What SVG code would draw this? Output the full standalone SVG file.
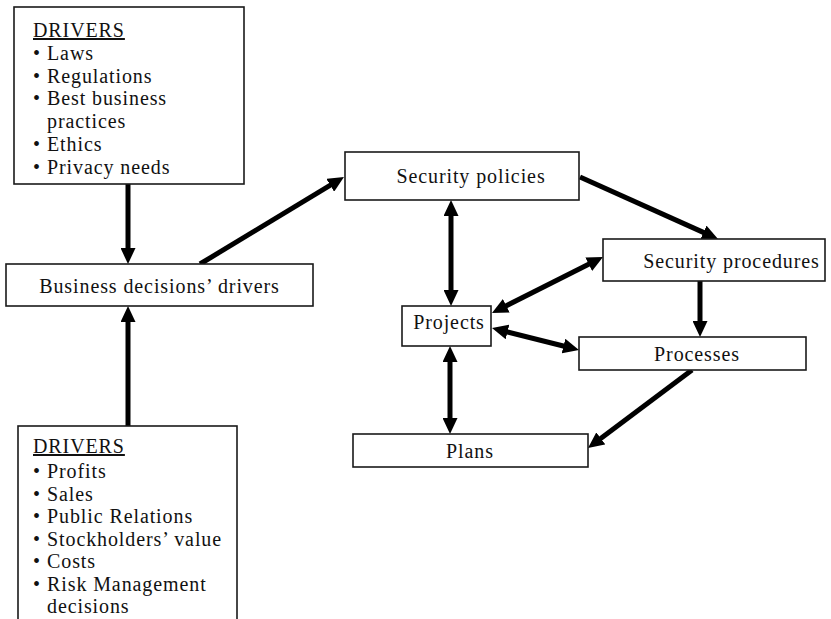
<svg xmlns="http://www.w3.org/2000/svg" width="831" height="619" viewBox="0 0 831 619">
  <style>
    .box { fill: #ffffff; stroke: #1a1a1a; stroke-width: 1.6; }
    .t { font-family: "Liberation Serif", "Times New Roman", serif; font-size: 20px; letter-spacing: 0.9px; fill: #111; }
    .c { text-anchor: middle; }
    .u { text-decoration: underline; }
    .arr { stroke: #000; stroke-width: 5; fill: none; }
    .one { marker-end: url(#ah); }
    .two { marker-start: url(#ah); marker-end: url(#ah); }
  </style>
  <defs>
    <marker id="ah" markerUnits="userSpaceOnUse" markerWidth="16" markerHeight="15" refX="6" refY="7.5" orient="auto-start-reverse" viewBox="0 0 16 15">
      <path d="M0,0 L16,7.5 L0,15 Z" fill="#000"/>
    </marker>
  </defs>
  <rect width="831" height="619" fill="#ffffff"/>

  <g id="connectors">
    <line class="arr one" x1="128" y1="184" x2="128" y2="254"/>
    <line class="arr one" x1="128" y1="426" x2="128" y2="316"/>
    <line class="arr one" x1="200" y1="264" x2="335.4" y2="182.2"/>
    <line class="arr two" x1="451" y1="210" x2="451" y2="296"/>
    <line class="arr one" x1="580" y1="177" x2="708.9" y2="234.9"/>
    <line class="arr two" x1="500.9" y1="308.5" x2="594.1" y2="261.5"/>
    <line class="arr two" x1="501.7" y1="330.5" x2="569.3" y2="347.5"/>
    <line class="arr one" x1="700" y1="281" x2="700" y2="327"/>
    <line class="arr two" x1="450" y1="356" x2="450" y2="424"/>
    <line class="arr one" x1="692" y1="370" x2="596" y2="442"/>
  </g>

  <g id="drivers-top">
    <rect class="box" x="14" y="7" width="230" height="177"/>
    <text class="t u" x="33" y="37">DRIVERS</text>
    <text class="t"><tspan x="33" y="60">•</tspan><tspan x="47" y="60">Laws</tspan></text>
    <text class="t"><tspan x="33" y="82.6">•</tspan><tspan x="47" y="82.6">Regulations</tspan></text>
    <text class="t"><tspan x="33" y="105.4">•</tspan><tspan x="47" y="105.4">Best business</tspan></text>
    <text class="t" x="47" y="128.2">practices</text>
    <text class="t"><tspan x="33" y="151">•</tspan><tspan x="47" y="151">Ethics</tspan></text>
    <text class="t"><tspan x="33" y="173.8">•</tspan><tspan x="47" y="173.8">Privacy needs</tspan></text>
  </g>

  <g id="business-drivers">
    <rect class="box" x="6" y="264" width="307" height="42"/>
    <text class="t c" x="159.5" y="293">Business decisions’ drivers</text>
  </g>

  <g id="drivers-bottom">
    <rect class="box" x="18" y="426" width="219" height="220"/>
    <text class="t u" x="33" y="453">DRIVERS</text>
    <text class="t"><tspan x="33" y="478">•</tspan><tspan x="47" y="478">Profits</tspan></text>
    <text class="t"><tspan x="33" y="500.5">•</tspan><tspan x="47" y="500.5">Sales</tspan></text>
    <text class="t"><tspan x="33" y="523">•</tspan><tspan x="47" y="523">Public Relations</tspan></text>
    <text class="t"><tspan x="33" y="545.5">•</tspan><tspan x="47" y="545.5">Stockholders’ value</tspan></text>
    <text class="t"><tspan x="33" y="568">•</tspan><tspan x="47" y="568">Costs</tspan></text>
    <text class="t"><tspan x="33" y="590.5">•</tspan><tspan x="47" y="590.5">Risk Management</tspan></text>
    <text class="t" x="47" y="613">decisions</text>
  </g>

  <g id="security-policies">
    <rect class="box" x="345" y="152" width="234" height="48"/>
    <text class="t c" x="471" y="183">Security policies</text>
  </g>

  <g id="security-procedures">
    <rect class="box" x="603" y="239" width="222" height="42"/>
    <text class="t c" x="731.5" y="268">Security procedures</text>
  </g>

  <g id="projects">
    <rect class="box" x="402" y="306" width="89" height="40"/>
    <text class="t c" x="449" y="329">Projects</text>
  </g>

  <g id="processes">
    <rect class="box" x="579" y="337" width="227" height="33"/>
    <text class="t c" x="697" y="361">Processes</text>
  </g>

  <g id="plans">
    <rect class="box" x="353" y="434" width="235" height="33"/>
    <text class="t c" x="470" y="458">Plans</text>
  </g>
</svg>
